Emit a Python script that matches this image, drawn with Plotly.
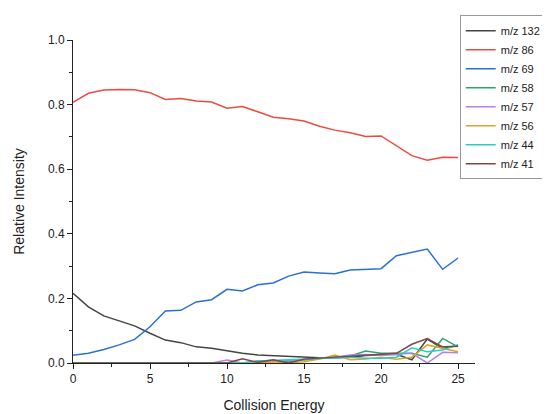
import plotly.graph_objects as go

energy = list(range(26))

mz132 = [0.216, 0.174, 0.146, 0.130, 0.115, 0.092, 0.071, 0.063, 0.050, 0.046,
         0.038, 0.030, 0.025, 0.023, 0.020, 0.017, 0.016, 0.016, 0.018, 0.023,
         0.026, 0.027, 0.010, 0.074, 0.045, 0.054]
mz86 = [0.807, 0.835, 0.845, 0.847, 0.846, 0.837, 0.816, 0.819, 0.811, 0.808,
        0.789, 0.794, 0.778, 0.761, 0.756, 0.749, 0.733, 0.721, 0.713, 0.701,
        0.703, 0.672, 0.642, 0.628, 0.637, 0.636]
mz69 = [0.024, 0.030, 0.042, 0.056, 0.073, 0.112, 0.161, 0.163, 0.189, 0.196,
        0.228, 0.223, 0.242, 0.248, 0.269, 0.282, 0.279, 0.276, 0.288, 0.289,
        0.292, 0.332, 0.343, 0.353, 0.290, 0.325]
mz58 = [0, 0, 0, 0, 0, 0, 0, 0, 0, 0,
        0, 0, 0.006, 0.008, 0.004, 0.010, 0.015, 0.018, 0.022, 0.037,
        0.030, 0.030, 0.030, 0.018, 0.076, 0.050]
mz57 = [0, 0, 0, 0, 0, 0, 0, 0, 0, 0,
        0.009, 0.0, 0.002, 0.004, 0.006, 0.010, 0.014, 0.018, 0.025, 0.026,
        0.024, 0.026, 0.030, 0.000, 0.033, 0.032]
mz56 = [0, 0, 0, 0, 0, 0, 0, 0, 0, 0,
        0, 0, 0, 0.004, 0.0, 0.004, 0.012, 0.025, 0.010, 0.012,
        0.018, 0.012, 0.018, 0.056, 0.045, 0.035]
mz44 = [0, 0, 0, 0, 0, 0, 0, 0, 0, 0,
        0, 0, 0.006, 0.008, 0.010, 0.012, 0.014, 0.016, 0.018, 0.015,
        0.015, 0.018, 0.047, 0.035, 0.040, 0.057]
mz41 = [0, 0, 0, 0, 0, 0, 0, 0, 0, 0,
        0, 0.013, 0.002, 0.010, 0.000, 0.012, 0.015, 0.018, 0.020, 0.025,
        0.028, 0.030, 0.058, 0.076, 0.050, 0.052]

series_names = ["m/z 132", "m/z 86", "m/z 69", "m/z 58", "m/z 57", "m/z 56", "m/z 44", "m/z 41"]
series_values = [mz132, mz86, mz69, mz58, mz57, mz56, mz44, mz41]
colors = ["#454545", "#ee4a42", "#2c6fd6", "#2fa56c", "#b681e6", "#dca42a", "#29cccc", "#7b4a47"]

fig = go.Figure()
for name, vals, col in zip(series_names, series_values, colors):
    fig.add_trace(go.Scatter(x=energy, y=vals, mode="lines", name=name,
                             line=dict(color=col, width=1.5)))

axis_common = dict(showline=True, linecolor="#222", linewidth=1, ticks="outside",
                   ticklen=5, tickcolor="#222", showgrid=False, zeroline=False,
                   tickfont=dict(size=12, color="#222", family="Liberation Sans, Arial"),
                   mirror=False, automargin=False)

fig.update_xaxes(range=[0, 26.1], tickvals=[0, 5, 10, 15, 20, 25],
                 minor=dict(tickvals=[2.5, 7.5, 12.5, 17.5, 22.5], ticks="outside", ticklen=3, tickcolor="#222"),
                 title=dict(text="Collision Energy", font=dict(size=14, color="#222"), standoff=14),
                 **axis_common)
fig.update_yaxes(range=[0, 1.0], tickvals=[0, 0.2, 0.4, 0.6, 0.8, 1.0], tickformat=".1f",
                 minor=dict(tickvals=[0.1, 0.3, 0.5, 0.7, 0.9], ticks="outside", ticklen=3, tickcolor="#222"),
                 title=dict(text="Relative Intensity", font=dict(size=14, color="#222"), standoff=20),
                 **axis_common)

# the page body adds an 8px offset, so margins are compensated
fig.update_layout(
    width=550, height=414,
    margin=dict(l=65, r=83, t=32, b=59, autoexpand=False),
    paper_bgcolor="white", plot_bgcolor="white",
    font=dict(family="Liberation Sans, Arial", color="#222"),
    legend=dict(x=0.962, y=1.077, xanchor="left", yanchor="top",
                bordercolor="#999", borderwidth=1, bgcolor="white",
                font=dict(size=11), tracegroupgap=0, itemwidth=30),
    showlegend=True,
)

fig.write_html("out.html")
